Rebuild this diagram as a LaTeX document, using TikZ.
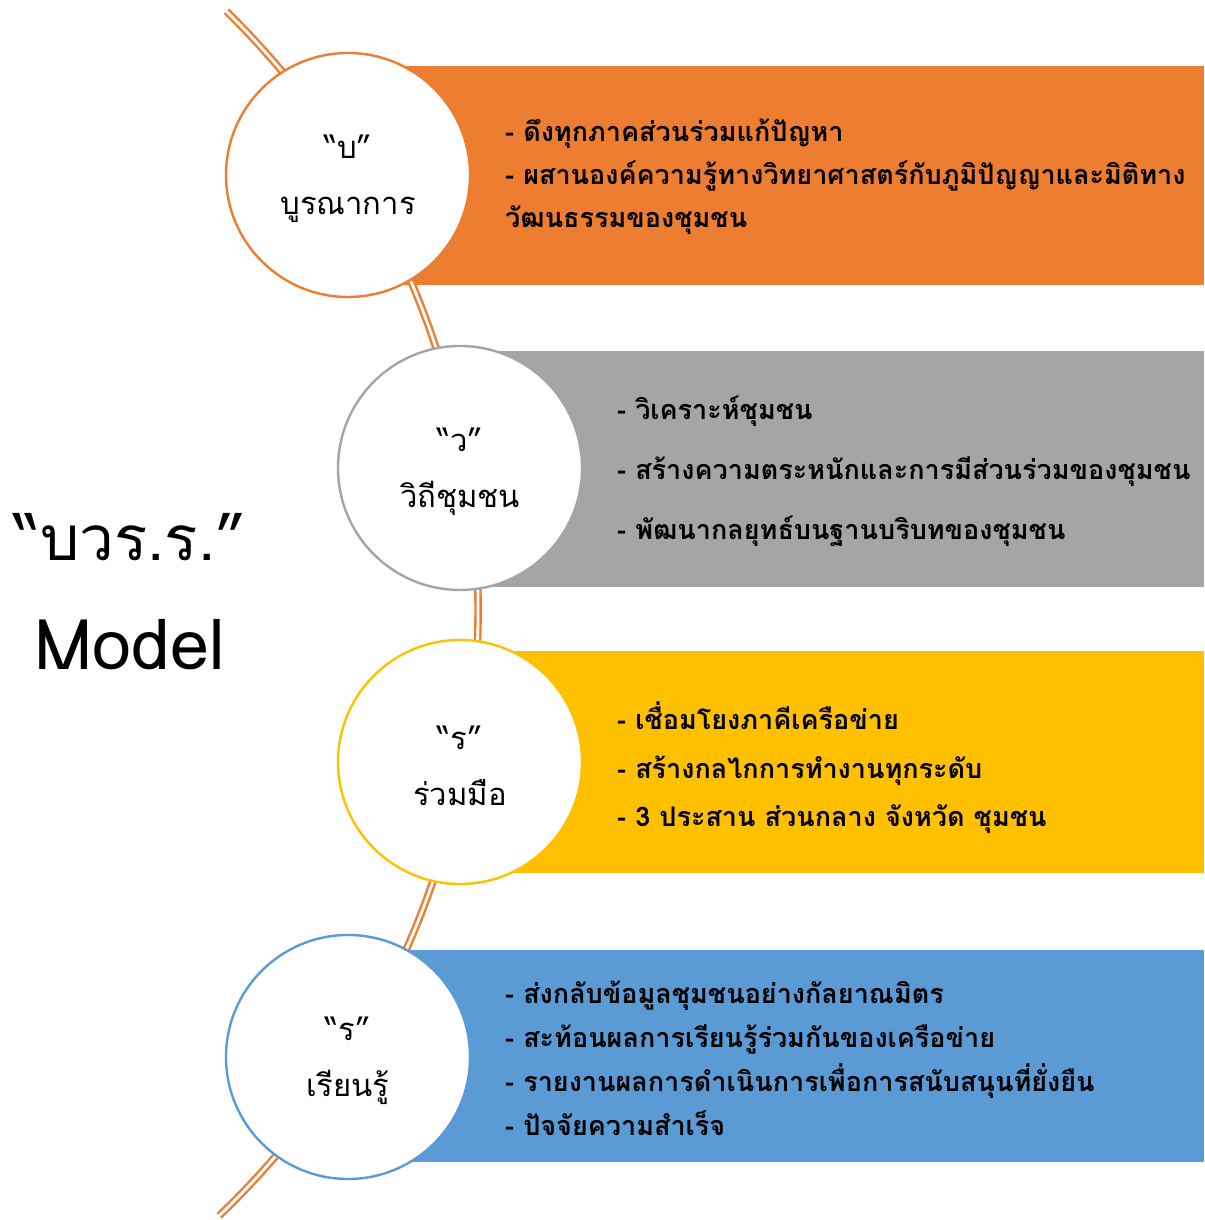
\documentclass[tikz,border=0pt]{standalone}
\usepackage{fontspec}
\newfontfamily\thai[Script=Thai]{Loma}
\definecolor{cOrange}{HTML}{ED7D31}
\definecolor{cGray}{HTML}{A5A5A5}
\definecolor{cYellow}{HTML}{FFC000}
\definecolor{cBlue}{HTML}{5B9BD5}
\tikzset{
  bubble/.style={circle, fill=white, draw=#1, line width=2.4pt, minimum size=244pt, inner sep=0pt},
  bubtext/.style={align=center, inner sep=0pt, font=\thai\fontsize{31}{56}\selectfont},
  band/.style={fill=#1, draw=none},
  bullets/.style={anchor=west, align=left, inner sep=0pt, font=\thai\bfseries\fontsize{27}{#1}\selectfont},
  link/.style={draw=cOrange, double=white, double distance=2.8pt, line width=2.4pt},
}
\begin{document}
\begin{tikzpicture}[x=1pt,y=1pt]
\useasboundingbox (0,0) rectangle (1204,1220);
% bands
\fill[band=cOrange] (348,935) rectangle (1204,1154);
\fill[band=cGray] (460,633) rectangle (1204,869);
\fill[band=cYellow] (460,347) rectangle (1204,569);
\fill[band=cBlue] (348,58) rectangle (1204,270);
% backbone arc
\coordinate (arcTop) at (226.4,1208.7);
\draw[link] (arcTop) arc[start angle=45.6, end angle=-46.3, radius=838];
% circles
\node[bubble=cOrange] (b1) at (348,1045) {};
\node[bubble=cGray] (b2) at (460,752) {};
\node[bubble=cYellow] (b3) at (460,458) {};
\node[bubble=cBlue] (b4) at (348,163) {};
\node[bubtext] (l1) at ([yshift=-4]b1.center) {“บ”\\บูรณาการ};
\node[bubtext] (l2) at ([yshift=-4]b2.center) {“ว”\\วิถีชุมชน};
\node[bubtext] (l3) at ([yshift=-4]b3.center) {“ร”\\ร่วมมือ};
\node[bubtext] (l4) at ([yshift=-4]b4.center) {“ร”\\เรียนรู้};
% texts
\node[bullets=43] (t1) at (505,1043) {- ดึงทุกภาคส่วนร่วมแก้ปัญหา\\- ผสานองค์ความรู้ทางวิทยาศาสตร์กับภูมิปัญญาและมิติทาง\\วัฒนธรรมของชุมชน};
\node[bullets=60] (t2) at (617,749) {- วิเคราะห์ชุมชน\\- สร้างความตระหนักและการมีส่วนร่วมของชุมชน\\- พัฒนากลยุทธ์บนฐานบริบทของชุมชน};
\node[bullets=48.5] (t3) at (617,452) {- เชื่อมโยงภาคีเครือข่าย\\- สร้างกลไกการทำงานทุกระดับ\\- 3 ประสาน ส่วนกลาง จังหวัด ชุมชน};
\node[bullets=44] (t4) at (505,161.5) {- ส่งกลับข้อมูลชุมชนอย่างกัลยาณมิตร\\- สะท้อนผลการเรียนรู้ร่วมกันของเครือข่าย\\- รายงานผลการดำเนินการเพื่อการสนับสนุนที่ยั่งยืน\\- ปัจจัยความสำเร็จ};
% title
\node[font=\thai\fontsize{62}{70}\selectfont, inner sep=0pt] (title) at (130,683) {“บวร.ร.”};
\node[font=\thai\fontsize{70}{80}\selectfont, inner sep=0pt] (model) at (130,575) {Model};
\end{tikzpicture}
\end{document}
